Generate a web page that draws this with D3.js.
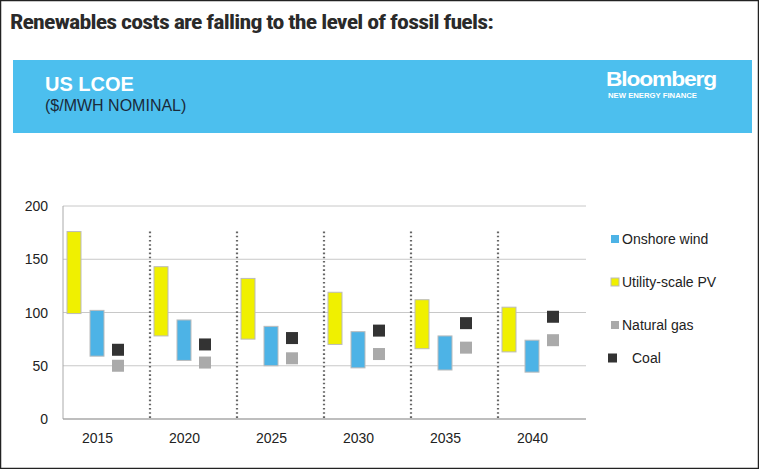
<!DOCTYPE html>
<html><head><meta charset="utf-8">
<script src="https://cdn.jsdelivr.net/npm/d3@7"></script>
<style>body{margin:0;background:#fff}svg{display:block}</style>
</head><body>
<svg id="c" width="759" height="469"></svg>
<script>
const years = ["2015","2020","2025","2030","2035","2040"];
const pvLow  = [99, 78, 75, 70, 66, 63];
const pvHigh = [176,143,132,119,112,105];
const windLow  = [59, 55, 50, 48, 46, 44];
const windHigh = [102, 93, 87, 82, 78, 74];
const coal = [65, 70, 76, 83, 90, 96];
const gas  = [50, 53, 57, 61, 67, 74];
const yTicks = [0,50,100,150,200];
const legendItems = [
  {name:"Onshore wind", color:"#4db3e6"},
  {name:"Utility-scale PV", color:"#f0f000"},
  {name:"Natural gas", color:"#aaaaaa"},
  {name:"Coal", color:"#333333"}
];

const svg = d3.select("#c");
const F = "Arial, 'Liberation Sans', sans-serif";
svg.append("rect").attr("x",0.5).attr("y",0.5).attr("width",758).attr("height",468).attr("fill","none").attr("stroke","#222").attr("stroke-width",1.5);
svg.append("text").attr("x",10).attr("y",29).attr("font-family","'Roboto Condensed',Roboto,sans-serif")
  .attr("font-weight","bold").attr("font-size",21).attr("fill","#2a2a2a").attr("letter-spacing",-0.7)
  .attr("textLength",483).attr("lengthAdjust","spacingAndGlyphs")
  .text("Renewables costs are falling to the level of fossil fuels:");
svg.append("rect").attr("x",13).attr("y",60).attr("width",739).attr("height",73).attr("fill","#4cbfee");
svg.append("text").attr("x",45).attr("y",91).attr("font-family",F).attr("font-weight","bold").attr("font-size",20).attr("fill","#fff").text("US LCOE");
svg.append("text").attr("x",45).attr("y",111).attr("font-family",F).attr("font-size",16).attr("fill","#1a2a3a").text("($/MWH NOMINAL)");
svg.append("text").attr("x",606).attr("y",86).attr("font-family",F).attr("font-weight","bold").attr("font-size",20).attr("fill","#fff").attr("letter-spacing",-1)
  .attr("textLength",110).attr("lengthAdjust","spacingAndGlyphs").text("Bloomberg");
svg.append("text").attr("x",608).attr("y",98).attr("font-family",F).attr("font-weight","bold").attr("font-size",7).attr("fill","#fff")
  .attr("textLength",89).attr("lengthAdjust","spacingAndGlyphs").text("NEW ENERGY FINANCE");

const x = d3.scaleBand().domain(years).range([63,585]);
const y = d3.scaleLinear().domain([0,200]).range([419,206]);

svg.append("g").selectAll("line").data(yTicks).join("line")
  .attr("x1",63).attr("x2",586).attr("y1",d=>y(d)).attr("y2",d=>y(d)).attr("stroke","#c8c8c8");
svg.append("line").attr("x1",63).attr("x2",63).attr("y1",y(200)).attr("y2",y(0)).attr("stroke","#aaa");
svg.append("line").attr("x1",63).attr("x2",586).attr("y1",y(0)).attr("y2",y(0)).attr("stroke","#999");
svg.append("g").selectAll("text").data(yTicks).join("text")
  .attr("x",48).attr("y",d=>y(d)+5).attr("text-anchor","end").attr("font-family",F).attr("font-size",14).attr("fill","#222").text(d=>d);
svg.append("g").selectAll("text").data(years).join("text")
  .attr("x",d=>x(d)+x.bandwidth()/2-9).attr("y",443).attr("text-anchor","middle").attr("font-family",F).attr("font-size",14).attr("fill","#222").text(d=>d);
svg.append("g").selectAll("line").data(years.slice(1)).join("line")
  .attr("x1",d=>x(d)).attr("x2",d=>x(d)).attr("y1",y(176)).attr("y2",y(0))
  .attr("stroke","#666").attr("stroke-width",2.2).attr("stroke-dasharray","1.6,2.6");

const g = svg.append("g");
years.forEach((yr,i)=>{
  const x0 = x(yr);
  g.append("rect").attr("x",x0+4).attr("y",y(pvHigh[i])).attr("width",14).attr("height",y(pvLow[i])-y(pvHigh[i]))
    .attr("fill","#f0f000").attr("stroke","#bbb").attr("stroke-width",1);
  g.append("rect").attr("x",x0+27).attr("y",y(windHigh[i])).attr("width",14).attr("height",y(windLow[i])-y(windHigh[i]))
    .attr("fill","#4db3e6").attr("stroke","#bbb").attr("stroke-width",1);
  g.append("rect").attr("x",x0+49).attr("y",y(coal[i])-6).attr("width",12).attr("height",12).attr("fill","#333");
  g.append("rect").attr("x",x0+49).attr("y",y(gas[i])-6).attr("width",12).attr("height",12).attr("fill","#aaa");
});

const ly = [240,283,326,359];
legendItems.forEach((d,i)=>{
  const sq = i===3 ? 9 : 8;
  svg.append("rect").attr("x",i===3?608:611).attr("y",ly[i]-sq/2-1).attr("width",sq).attr("height",sq)
    .attr("fill",d.color).attr("stroke",i===1?"#bbb":"none");
  svg.append("text").attr("x",i===3?632:622).attr("y",ly[i]+4).attr("font-family",F).attr("font-size",14).attr("fill","#222").text(d.name);
});
</script>
</body></html>
